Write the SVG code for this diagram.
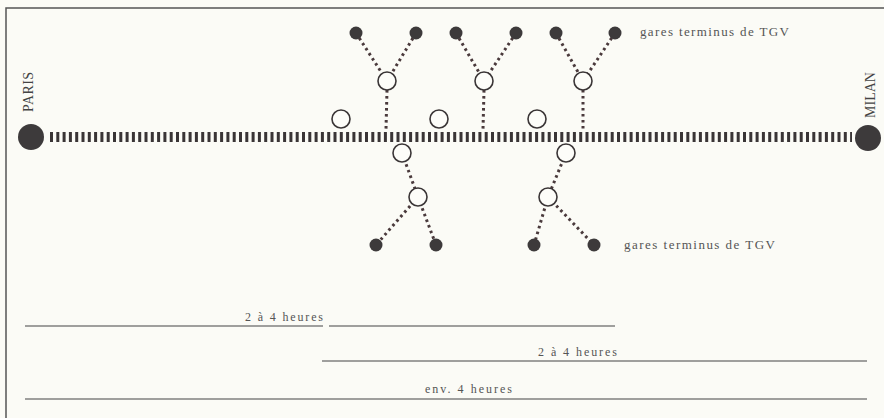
<svg xmlns="http://www.w3.org/2000/svg" width="884" height="418" viewBox="0 0 884 418">
<style>
.bg{fill:#fbfbf6}
.frame{fill:none;stroke:#555;stroke-width:1.5}
.track{stroke:#3a3536;stroke-width:10;stroke-dasharray:3 3.3;fill:none}
.dot{stroke:#4a3a3c;stroke-width:3;stroke-dasharray:2.6 3.4;fill:none}
.term{fill:#3d3a3b}
.city{fill:#3d3a3b}
.st{fill:#fdfdf9;stroke:#3a3536;stroke-width:1.6}
.rule{stroke:#444;stroke-width:1.2}
text{font-family:"Liberation Serif","Times New Roman",serif;fill:#555}
.lbl{font-size:13px}
.dur{font-size:12px}
.cityl{font-size:14px;fill:#444}
</style>
<rect class="bg" x="0" y="0" width="884" height="418"/>
<path class="frame" d="M6,420 V8 H886"/>
<g id="connectors">
<line class="track" x1="50" y1="137" x2="852" y2="137"/>
<line class="dot" x1="356" y1="33" x2="387" y2="81"/>
<line class="dot" x1="416" y1="33" x2="387" y2="81"/>
<line class="dot" x1="387" y1="90" x2="386" y2="129"/>
<line class="dot" x1="456" y1="33" x2="484" y2="81"/>
<line class="dot" x1="516" y1="33" x2="484" y2="81"/>
<line class="dot" x1="484" y1="90" x2="483" y2="129"/>
<line class="dot" x1="556" y1="33" x2="583" y2="81"/>
<line class="dot" x1="615" y1="33" x2="583" y2="81"/>
<line class="dot" x1="583" y1="90" x2="583" y2="129"/>
<line class="dot" x1="402" y1="153" x2="418" y2="197"/>
<line class="dot" x1="418" y1="197" x2="376" y2="245"/>
<line class="dot" x1="418" y1="197" x2="436" y2="245"/>
<line class="dot" x1="566" y1="153" x2="548" y2="197"/>
<line class="dot" x1="548" y1="197" x2="534" y2="245"/>
<line class="dot" x1="548" y1="197" x2="594" y2="245"/>
</g>
<g id="paris"><circle class="city" cx="31" cy="137" r="13"/><text class="cityl" transform="translate(33,112) rotate(-90)" textLength="40" lengthAdjust="spacing">PARIS</text></g>
<g id="milan"><circle class="city" cx="868" cy="138" r="13"/><text class="cityl" transform="translate(875,118) rotate(-90)" textLength="46" lengthAdjust="spacing">MILAN</text></g>
<g id="upper-terminals">
<circle class="term" cx="356" cy="33" r="6.5"/><circle class="term" cx="416" cy="33" r="6.5"/>
<circle class="term" cx="456" cy="33" r="6.5"/><circle class="term" cx="516" cy="33" r="6.5"/>
<circle class="term" cx="556" cy="33" r="6.5"/><circle class="term" cx="615" cy="33" r="6.5"/>
<text class="lbl" x="640" y="36" textLength="149" lengthAdjust="spacing">gares terminus de TGV</text>
</g>
<g id="upper-junctions">
<circle class="st" cx="387" cy="81" r="9"/><circle class="st" cx="484" cy="81" r="9"/><circle class="st" cx="583" cy="81" r="9"/>
</g>
<g id="track-stations-upper">
<circle class="st" cx="341" cy="119" r="9"/><circle class="st" cx="439" cy="119" r="9"/><circle class="st" cx="537" cy="119" r="9"/>
</g>
<g id="track-stations-lower">
<circle class="st" cx="402" cy="153" r="9"/><circle class="st" cx="566" cy="153" r="9"/>
</g>
<g id="lower-junctions">
<circle class="st" cx="418" cy="197" r="9"/><circle class="st" cx="548" cy="197" r="9"/>
</g>
<g id="lower-terminals">
<circle class="term" cx="376" cy="245" r="6.5"/><circle class="term" cx="436" cy="245" r="6.5"/>
<circle class="term" cx="534" cy="245" r="6.5"/><circle class="term" cx="594" cy="245" r="6.5"/>
<text class="lbl" x="624" y="249" textLength="151" lengthAdjust="spacing">gares terminus de TGV</text>
</g>
<g id="durations">
<line class="rule" x1="25" y1="326" x2="323" y2="326"/>
<line class="rule" x1="329" y1="326" x2="615" y2="326"/>
<text class="dur" x="245" y="321" textLength="78" lengthAdjust="spacing">2 à 4 heures</text>
<line class="rule" x1="322" y1="361" x2="867" y2="361"/>
<text class="dur" x="538" y="356" textLength="79" lengthAdjust="spacing">2 à 4 heures</text>
<line class="rule" x1="25" y1="399" x2="867" y2="399"/>
<text class="dur" x="425" y="393" textLength="87" lengthAdjust="spacing">env. 4 heures</text>
</g>
</svg>
